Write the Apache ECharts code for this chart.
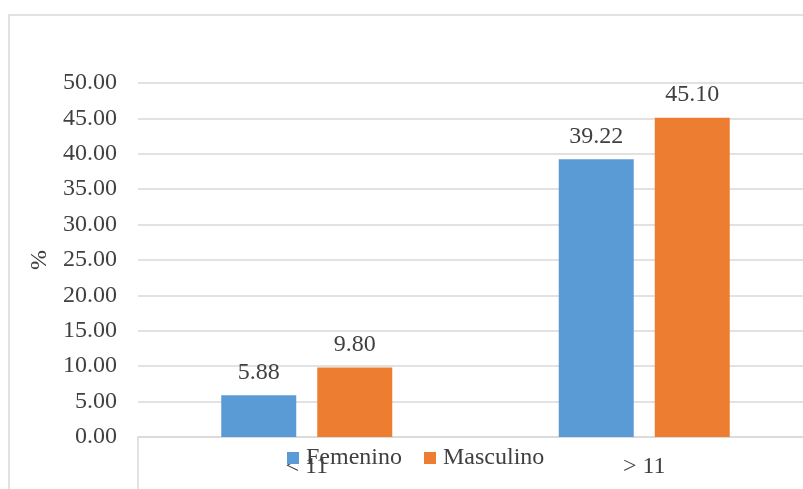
<!DOCTYPE html>
<html><head><meta charset="utf-8">
<script src="https://cdn.jsdelivr.net/npm/echarts@6/dist/echarts.min.js"></script>
<style>html,body{margin:0;padding:0;background:#fff}#c{width:803px;height:489px}</style>
</head><body><div id="c"></div>
<script>
const categories = ['< 11', '> 11'];
const femenino = [5.88, 39.22];
const masculino = [9.80, 45.10];
const yTicks = { min: 0, max: 50, interval: 5 };

const chart = echarts.init(document.getElementById('c'), null, { renderer: 'canvas' });
const font = '"Liberation Serif", "Times New Roman", serif';
const txt = '#404040';
const lbl = { show: true, position: 'top', distance: 11, color: txt, fontFamily: font, fontSize: 24, formatter: p => p.value.toFixed(2) };
chart.setOption({
  animation: false,
  textStyle: { fontFamily: font },
  grid: { left: 138, top: 83, bottom: 52, width: 675, outerBoundsMode: 'none', containLabel: false },
  legend: {
    bottom: 19, left: 287, itemWidth: 12, itemHeight: 12, itemGap: 22,
    icon: 'rect', textStyle: { color: txt, fontFamily: font, fontSize: 24, padding: [0, 0, 0, 2] },
    padding: 0
  },
  xAxis: {
    type: 'category', data: categories,
    axisLine: { lineStyle: { color: '#D9D9D9', width: 1.5 } },
    axisTick: { show: false },
    axisLabel: { color: txt, fontFamily: font, fontSize: 24, margin: 18 }
  },
  yAxis: {
    type: 'value', min: yTicks.min, max: yTicks.max, interval: yTicks.interval,
    name: '%', nameLocation: 'middle', nameGap: 81, nameRotate: 90,
    nameTextStyle: { color: txt, fontFamily: font, fontSize: 24 },
    axisLine: { show: false }, axisTick: { show: false },
    axisLabel: { color: txt, fontFamily: font, fontSize: 24, margin: 21, formatter: v => v.toFixed(2) },
    splitLine: { lineStyle: { color: '#D9D9D9', width: 1.5 } }
  },
  series: [
    { name: 'Femenino', type: 'bar', data: femenino, barWidth: 75, barGap: '28%', itemStyle: { color: '#5B9BD5' }, label: lbl },
    { name: 'Masculino', type: 'bar', data: masculino, barWidth: 75, itemStyle: { color: '#ED7D31' }, label: lbl }
  ],
  graphic: [
    { type: 'rect', shape: { x: 9, y: 15, width: 900, height: 600 }, style: { fill: 'none', stroke: '#D9D9D9', lineWidth: 1.5 }, silent: true, z: -1 },
    { type: 'line', shape: { x1: 138, y1: 437, x2: 138, y2: 489 }, style: { stroke: '#D9D9D9', lineWidth: 1.5 }, silent: true }
  ]
});
</script></body></html>
